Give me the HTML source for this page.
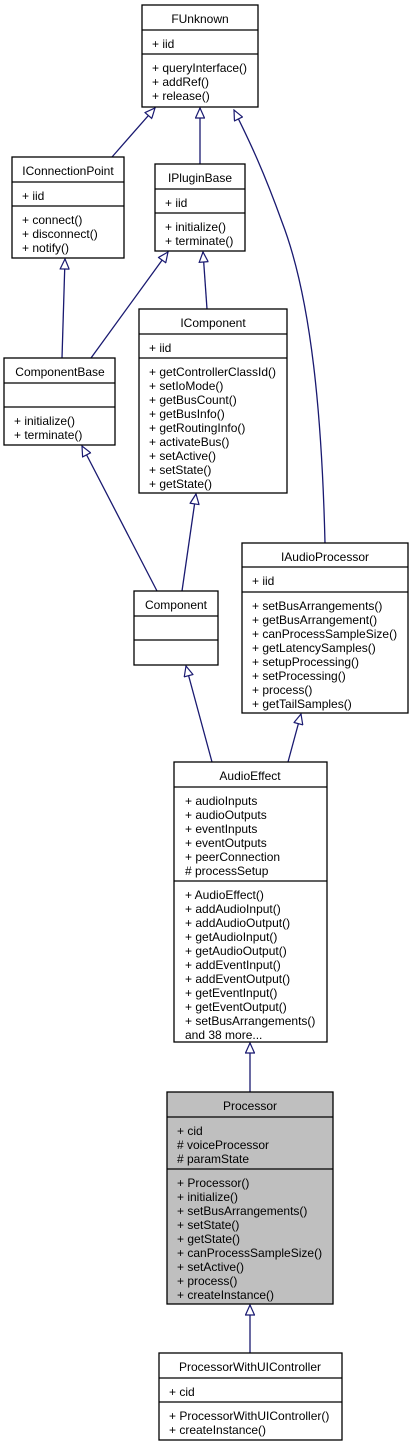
<!DOCTYPE html>
<html><head><meta charset="utf-8"><style>
html,body{margin:0;padding:0;background:#fff;}
svg{display:block;}
text{font-family:"Liberation Sans",Arial,sans-serif;font-size:12px;fill:#000;}
.b{fill:#fff;stroke:#000;stroke-width:1.3;}
.g{fill:#bfbfbf;stroke:#000;stroke-width:1.3;}
.l{stroke:#000;stroke-width:1.3;}
.e{fill:none;stroke:#191970;stroke-width:1.3;marker-end:url(#a);}
</style></head><body>
<svg width="415" height="1448" viewBox="0 0 415 1448" xmlns="http://www.w3.org/2000/svg">
<defs>
<marker id="a" viewBox="0 0 12 10" refX="11" refY="5" markerWidth="12" markerHeight="10" markerUnits="userSpaceOnUse" orient="auto">
<path d="M1,0.5 L11,5 L1,9.5 Z" fill="#fff" stroke="#191970" stroke-width="1.2"/>
</marker>
</defs>

<!-- edges -->
<path class="e" d="M112,157 L155,108"/>
<path class="e" d="M200,164 L200,108"/>
<path class="e" d="M325,543 C322,420 312,300 282,222 C264,172 250,142 234,110"/>
<path class="e" d="M62,358 L65,259"/>
<path class="e" d="M91,358 L168,252"/>
<path class="e" d="M207,309 L203,252"/>
<path class="e" d="M157,591 L82,446"/>
<path class="e" d="M182,591 L196,494"/>
<path class="e" d="M212,762 L186,666"/>
<path class="e" d="M288,762 L301,714"/>
<path class="e" d="M250,1092 L250,1043"/>
<path class="e" d="M250,1353 L250,1305"/>

<!-- FUnknown -->
<rect class="b" x="142" y="5" width="116" height="102"/>
<line class="l" x1="142" y1="30" x2="258" y2="30"/><line class="l" x1="142" y1="54" x2="258" y2="54"/>
<text x="200" y="23" text-anchor="middle">FUnknown</text>
<text x="152" y="48">+ iid</text>
<text x="152" y="72">+ queryInterface()</text>
<text x="152" y="86">+ addRef()</text>
<text x="152" y="100">+ release()</text>

<!-- IConnectionPoint -->
<rect class="b" x="12" y="157" width="112" height="101"/>
<line class="l" x1="12" y1="182" x2="124" y2="182"/><line class="l" x1="12" y1="206" x2="124" y2="206"/>
<text x="68" y="175" text-anchor="middle">IConnectionPoint</text>
<text x="22" y="200">+ iid</text>
<text x="22" y="224">+ connect()</text>
<text x="22" y="238">+ disconnect()</text>
<text x="22" y="252">+ notify()</text>

<!-- IPluginBase -->
<rect class="b" x="155" y="164" width="90" height="87"/>
<line class="l" x1="155" y1="189" x2="245" y2="189"/><line class="l" x1="155" y1="213" x2="245" y2="213"/>
<text x="200" y="182" text-anchor="middle">IPluginBase</text>
<text x="165" y="207">+ iid</text>
<text x="165" y="231">+ initialize()</text>
<text x="165" y="245">+ terminate()</text>

<!-- ComponentBase -->
<rect class="b" x="4" y="358" width="111" height="87"/>
<line class="l" x1="4" y1="383" x2="115" y2="383"/><line class="l" x1="4" y1="407" x2="115" y2="407"/>
<text x="60" y="376" text-anchor="middle">ComponentBase</text>
<text x="14" y="425">+ initialize()</text>
<text x="14" y="439">+ terminate()</text>

<!-- IComponent -->
<rect class="b" x="139" y="309" width="148" height="184"/>
<line class="l" x1="139" y1="334" x2="287" y2="334"/><line class="l" x1="139" y1="358" x2="287" y2="358"/>
<text x="213" y="327" text-anchor="middle">IComponent</text>
<text x="149" y="352">+ iid</text>
<text x="149" y="376">+ getControllerClassId()</text>
<text x="149" y="390">+ setIoMode()</text>
<text x="149" y="404">+ getBusCount()</text>
<text x="149" y="418">+ getBusInfo()</text>
<text x="149" y="432">+ getRoutingInfo()</text>
<text x="149" y="446">+ activateBus()</text>
<text x="149" y="460">+ setActive()</text>
<text x="149" y="474">+ setState()</text>
<text x="149" y="488">+ getState()</text>

<!-- Component -->
<rect class="b" x="134" y="591" width="84" height="74"/>
<line class="l" x1="134" y1="616" x2="218" y2="616"/><line class="l" x1="134" y1="640" x2="218" y2="640"/>
<text x="176" y="609" text-anchor="middle">Component</text>

<!-- IAudioProcessor -->
<rect class="b" x="242" y="543" width="166" height="170"/>
<line class="l" x1="242" y1="567" x2="408" y2="567"/><line class="l" x1="242" y1="592" x2="408" y2="592"/>
<text x="325" y="561" text-anchor="middle">IAudioProcessor</text>
<text x="252" y="585">+ iid</text>
<text x="252" y="610">+ setBusArrangements()</text>
<text x="252" y="624">+ getBusArrangement()</text>
<text x="252" y="638">+ canProcessSampleSize()</text>
<text x="252" y="652">+ getLatencySamples()</text>
<text x="252" y="666">+ setupProcessing()</text>
<text x="252" y="680">+ setProcessing()</text>
<text x="252" y="694">+ process()</text>
<text x="252" y="708">+ getTailSamples()</text>

<!-- AudioEffect -->
<rect class="b" x="174" y="762" width="153" height="280"/>
<line class="l" x1="174" y1="787" x2="327" y2="787"/><line class="l" x1="174" y1="881" x2="327" y2="881"/>
<text x="250" y="780" text-anchor="middle">AudioEffect</text>
<text x="185" y="805">+ audioInputs</text>
<text x="185" y="819">+ audioOutputs</text>
<text x="185" y="833">+ eventInputs</text>
<text x="185" y="847">+ eventOutputs</text>
<text x="185" y="861">+ peerConnection</text>
<text x="185" y="875"># processSetup</text>
<text x="185" y="899">+ AudioEffect()</text>
<text x="185" y="913">+ addAudioInput()</text>
<text x="185" y="927">+ addAudioOutput()</text>
<text x="185" y="941">+ getAudioInput()</text>
<text x="185" y="955">+ getAudioOutput()</text>
<text x="185" y="969">+ addEventInput()</text>
<text x="185" y="983">+ addEventOutput()</text>
<text x="185" y="997">+ getEventInput()</text>
<text x="185" y="1011">+ getEventOutput()</text>
<text x="185" y="1025">+ setBusArrangements()</text>
<text x="185" y="1039">and 38 more...</text>

<!-- Processor -->
<rect class="g" x="167" y="1092" width="166" height="212"/>
<line class="l" x1="167" y1="1117" x2="333" y2="1117"/><line class="l" x1="167" y1="1169" x2="333" y2="1169"/>
<text x="250" y="1110" text-anchor="middle">Processor</text>
<text x="177" y="1135">+ cid</text>
<text x="177" y="1149"># voiceProcessor</text>
<text x="177" y="1163"># paramState</text>
<text x="177" y="1187">+ Processor()</text>
<text x="177" y="1201">+ initialize()</text>
<text x="177" y="1215">+ setBusArrangements()</text>
<text x="177" y="1229">+ setState()</text>
<text x="177" y="1243">+ getState()</text>
<text x="177" y="1257">+ canProcessSampleSize()</text>
<text x="177" y="1271">+ setActive()</text>
<text x="177" y="1285">+ process()</text>
<text x="177" y="1299">+ createInstance()</text>

<!-- ProcessorWithUIController -->
<rect class="b" x="159" y="1353" width="183" height="87"/>
<line class="l" x1="159" y1="1378" x2="342" y2="1378"/><line class="l" x1="159" y1="1402" x2="342" y2="1402"/>
<text x="250" y="1371" text-anchor="middle">ProcessorWithUIController</text>
<text x="169" y="1396">+ cid</text>
<text x="169" y="1420">+ ProcessorWithUIController()</text>
<text x="169" y="1434">+ createInstance()</text>
</svg>
</body></html>
